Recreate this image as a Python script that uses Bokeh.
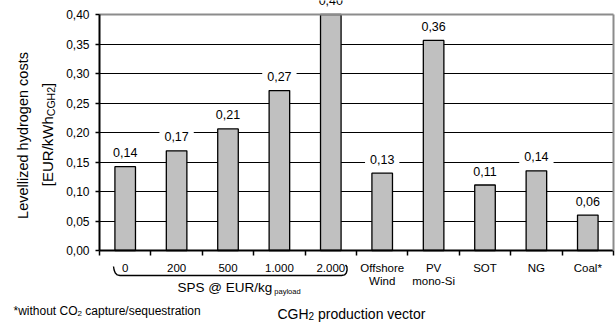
import math
from bokeh.plotting import figure
from bokeh.models import (FixedTicker, CustomJSTickFormatter, Label, Range1d, LinearAxis, Grid)
from bokeh.embed import file_html
from bokeh.resources import INLINE

# ---------------- data ----------------
categories = ["0", "200", "500", "1.000", "2.000", "Offshore\nWind", "PV\nmono-Si", "SOT", "NG", "Coal*"]
costs = [0.142, 0.169, 0.206, 0.271, 0.400, 0.131, 0.356, 0.111, 0.135, 0.060]
y_ticks = [0.00, 0.05, 0.10, 0.15, 0.20, 0.25, 0.30, 0.35, 0.40]
sps_first, sps_last = 0, 4   # categories grouped under the SPS brace

FONT = "Liberation Sans"

# Arial / Liberation Sans advance widths (1/1000 em)
AW = {' ': 278, '[': 278, ']': 278, '/': 278, '*': 389, '@': 1015, '.': 278, ',': 278, '-': 333,
      'E': 667, 'U': 722, 'R': 722, 'W': 944, 'C': 722, 'G': 778, 'H': 722, 'S': 667, 'P': 667, 'O': 778,
      'L': 556, 'N': 722, 'T': 611, 'V': 667,
      'a': 556, 'b': 556, 'c': 500, 'd': 556, 'e': 556, 'f': 278, 'g': 556, 'h': 556, 'i': 222, 'k': 500,
      'l': 222, 'm': 833, 'n': 556, 'o': 556, 'p': 556, 'q': 556, 'r': 333, 's': 500, 't': 278, 'u': 556,
      'v': 500, 'w': 722, 'y': 500, 'z': 500}


def tw(s, size):
    return sum(AW.get(ch, 556) for ch in s) * size / 1000.0


# ---------------- geometry (canvas px) ----------------
W, H = 615, 327
PL, PR, PT, PB = 99, 613, 14, 250       # plotting area of the chart
NCAT = len(categories)
YMAX = y_ticks[-1]
PXX = (PR - PL) / NCAT
PXY = (PB - PT) / YMAX


def X(px):
    return (px - PL) / PXX


def Y(py):
    return (PB - py) / PXY


p = figure(width=W, height=H, x_range=Range1d(X(0), X(W)), y_range=Range1d(Y(H), Y(0)),
           output_backend="svg", toolbar_location=None,
           min_border=0, min_border_left=0, min_border_right=0, min_border_top=0, min_border_bottom=0)
p.background_fill_color = "white"
p.border_fill_color = "white"
p.outline_line_color = None

xs = [i + 0.5 for i in range(NCAT)]

# grid (only over the plotting area)
p.xgrid.visible = False
p.ygrid.visible = False
grid = Grid(dimension=1, ticker=FixedTicker(ticks=y_ticks[1:-1]), grid_line_color="black",
            grid_line_width=1.1, bounds=(y_ticks[0], YMAX))
if "cross_bounds" in Grid.properties():
    grid.cross_bounds = (0, NCAT)
    p.add_layout(grid)
else:
    p.segment(x0=[0] * (len(y_ticks) - 2), x1=[NCAT] * (len(y_ticks) - 2), y0=y_ticks[1:-1],
              y1=y_ticks[1:-1], line_color="black", line_width=1.1, level="underlay")

# bars
p.vbar(x=xs, top=costs, width=0.4, bottom=0, fill_color="#C0C0C0", line_color="black", line_width=1.3)

# y axis (fixed at x = 0)
ya = p.yaxis[0]
ya.fixed_location = 0
ya.bounds = (y_ticks[0], YMAX)
ya.ticker = FixedTicker(ticks=y_ticks)
ya.formatter = CustomJSTickFormatter(code="return tick.toFixed(2).replace('.', ',');")
ya.major_label_text_font = FONT
ya.major_label_text_font_size = "12px"
ya.major_label_text_color = "black"
ya.axis_line_color = "black"
ya.axis_line_width = 2
ya.major_tick_line_color = "black"
ya.major_tick_line_width = 1.5
ya.major_tick_in = 0
ya.major_tick_out = 4
ya.minor_tick_line_color = None
ya.major_label_standoff = 6

# x axis (fixed at y = 0): ticks at category boundaries
xa = p.xaxis[0]
xa.fixed_location = 0
xa.bounds = (0, NCAT)
xa.ticker = FixedTicker(ticks=list(range(NCAT + 1)))
xa.formatter = CustomJSTickFormatter(code="return '';")
xa.axis_line_color = "black"
xa.axis_line_width = 2
xa.major_tick_line_color = "black"
xa.major_tick_line_width = 1.5
xa.major_tick_in = 0
xa.major_tick_out = 5
xa.minor_tick_line_color = None

# grey top and right borders of the plotting area
top_ax = LinearAxis(fixed_location=YMAX, bounds=(0, NCAT), ticker=FixedTicker(ticks=[]),
                    axis_line_color="#8c8c8c", axis_line_width=2, major_tick_line_color=None,
                    minor_tick_line_color=None, major_label_text_font_size="0px")
p.add_layout(top_ax, "above")
right_ax = LinearAxis(fixed_location=NCAT, bounds=(0, YMAX), ticker=FixedTicker(ticks=[]),
                      axis_line_color="#8c8c8c", axis_line_width=2, major_tick_line_color=None,
                      minor_tick_line_color=None, major_label_text_font_size="0px")
p.add_layout(right_ax, "right")

# value labels
for x, v in zip(xs, costs):
    p.add_layout(Label(x=x, y=v + 14 / PXY, text=f"{v:.2f}".replace(".", ","),
                       text_align="center", text_baseline="middle", text_font=FONT,
                       text_font_size="12.5px", text_color="black",
                       background_fill_color="white", padding=(5, 3)))

# category labels
for x, c in zip(xs, categories):
    for k, line in enumerate(c.split("\n")):
        p.add_layout(Label(x=x, y=Y(267.7 + 12.6 * k), text=line, text_align="center",
                           text_baseline="middle", text_font=FONT, text_font_size="11.5px",
                           text_color="black"))

# SPS brace under first group
bl = PL + sps_first * PXX + 14
br = PL + (sps_last + 1) * PXX - 9
by = 275
brace = [(bl, 266), (bl + 0.6, 269.5), (bl + 1.8, 272.5), (bl + 3.8, 274.4), (bl + 6.5, by),
         (br - 6, by), (br - 3, 274.4), (br - 1.2, 272.5), (br - 0.4, 269.5), (br - 0.6, 266.3),
         (br - 2, 264.5)]
p.line(x=[X(a) for a, b in brace], y=[Y(b) for a, b in brace], line_color="black", line_width=1.4)


def run_text(parts, x0, yc, angle=0.0):
    """parts: list of (text, size, dy) written left to right; leading spaces become gaps."""
    cur = x0
    for text, size, dy in parts:
        stripped = text.lstrip(" ")
        cur += tw(text[:len(text) - len(stripped)], size)
        p.add_layout(Label(x=X(cur), y=Y(yc + dy), text=stripped, text_align="left",
                           text_baseline="middle", text_font=FONT, text_font_size=f"{size}px",
                           text_color="black"))
        cur += tw(stripped, size)


# SPS group label
run_text([("SPS @ EUR/kg", 13.5, 0), (" payload", 7.5, 3.5)], 177, 287)

# footnote
run_text([("*without CO", 12, 0), ("2", 8, 3), (" capture/sequestration", 12, 0)], 13, 310)

# x title
run_text([("CGH", 14, 0), ("2", 10, 2), (" production vector", 14, 0)], 277, 313)

# y title (rotated, two lines)
p.add_layout(Label(x=X(22.5), y=Y(135), text="Levellized hydrogen costs", angle=math.pi / 2,
                   text_align="center", text_baseline="middle", text_font=FONT,
                   text_font_size="14.5px", text_color="black"))
yl = ["[EUR/kWh", "CGH2", "]"]
ys_sizes = [15, 10.5, 15]
ws = [tw(s, z) for s, z in zip(yl, ys_sizes)]
cur = 134 + sum(ws) / 2
cx = 47
for s, z, w, dxp in zip(yl, ys_sizes, ws, [0, 3, 0]):
    p.add_layout(Label(x=X(cx + dxp), y=Y(cur - w / 2), text=s, angle=math.pi / 2,
                       text_align="center", text_baseline="middle", text_font=FONT,
                       text_font_size=f"{z}px", text_color="black"))
    cur -= w

open("out.html", "w").write(file_html(p, INLINE))
